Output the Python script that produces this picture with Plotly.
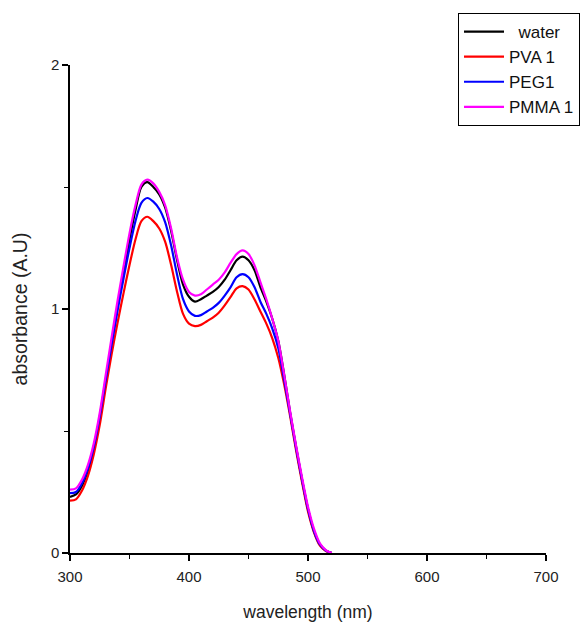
import plotly.graph_objects as go

wavelength = [300, 305, 310, 315, 320, 325, 330, 335, 340, 345, 350, 355, 360, 365, 370,
              375, 380, 385, 390, 395, 400, 405, 410, 415, 420, 425, 430, 435, 440, 445,
              450, 455, 460, 465, 470, 475, 480, 485, 490, 495, 500, 505, 510, 515, 520]

water = [0.23, 0.24, 0.275, 0.335, 0.425, 0.55, 0.705, 0.86, 1.01, 1.15, 1.285, 1.405, 1.50, 1.52, 1.50,
         1.47, 1.415, 1.32, 1.20, 1.10, 1.05, 1.03, 1.04, 1.055, 1.07, 1.09, 1.12, 1.16, 1.20, 1.215,
         1.20, 1.16, 1.09, 1.03, 0.96, 0.87, 0.73, 0.575, 0.435, 0.30, 0.18, 0.09, 0.035, 0.01, 0.0]

pva1 = [0.215, 0.22, 0.255, 0.315, 0.405, 0.525, 0.675, 0.815, 0.945, 1.065, 1.18, 1.285, 1.36, 1.378, 1.36,
        1.33, 1.275, 1.18, 1.07, 0.98, 0.94, 0.93, 0.935, 0.95, 0.965, 0.985, 1.015, 1.05, 1.085, 1.094,
        1.08, 1.04, 0.99, 0.94, 0.88, 0.80, 0.69, 0.56, 0.42, 0.29, 0.17, 0.085, 0.03, 0.008, 0.0]

peg1 = [0.245, 0.25, 0.285, 0.345, 0.435, 0.56, 0.71, 0.855, 0.995, 1.125, 1.25, 1.36, 1.435, 1.455, 1.44,
        1.41, 1.355, 1.26, 1.14, 1.04, 0.99, 0.972, 0.975, 0.99, 1.005, 1.025, 1.055, 1.09, 1.13, 1.143,
        1.13, 1.09, 1.03, 0.98, 0.92, 0.84, 0.71, 0.57, 0.43, 0.30, 0.18, 0.09, 0.035, 0.01, 0.0]

pmma1 = [0.26, 0.265, 0.30, 0.36, 0.45, 0.575, 0.73, 0.885, 1.035, 1.175, 1.31, 1.425, 1.51, 1.53, 1.515,
         1.48, 1.425, 1.33, 1.21, 1.12, 1.07, 1.055, 1.06, 1.08, 1.10, 1.12, 1.15, 1.19, 1.225, 1.24,
         1.225, 1.18, 1.11, 1.04, 0.96, 0.87, 0.73, 0.58, 0.44, 0.31, 0.19, 0.10, 0.04, 0.012, 0.0]

series = [
    ("\u00a0\u00a0water", water, "#000000"),
    ("PVA 1", pva1, "#ff0000"),
    ("PEG1", peg1, "#0000ff"),
    ("PMMA 1", pmma1, "#ff00ff"),
]

fig = go.Figure()
for i, (name, vals, color) in enumerate(series):
    fig.add_trace(go.Scatter(
        x=wavelength, y=vals, mode="lines", name=name,
        line=dict(color=color, width=2.2, shape="spline", smoothing=0.8),
    ))

tick_font = dict(family="Arial", size=15, color="#222222")
fig.update_layout(
    width=582, height=625,
    margin=dict(l=70, r=36, t=65, b=72, autoexpand=False),
    paper_bgcolor="white", plot_bgcolor="white",
    font=dict(family="Arial", size=15, color="#222222"),
    showlegend=True,
    legend=dict(
        xref="container", yref="container",
        x=458 / 582, y=1 - 13 / 625, xanchor="left", yanchor="top",
        bordercolor="#000000", borderwidth=1, bgcolor="white",
        font=dict(family="Arial", size=17, color="#111111"),
        itemwidth=40,
    ),
    xaxis=dict(
        range=[300, 700], tickvals=[300, 400, 500, 600, 700],
        showgrid=False, zeroline=False, automargin=False,
        showline=True, linecolor="#000000", linewidth=1.5,
        ticks="outside", ticklen=6, tickwidth=1.5, tickcolor="#000000",
        minor=dict(ticks="outside", dtick=50, ticklen=4, tickwidth=1.2, tickcolor="#000000", showgrid=False),
        tickfont=tick_font, ticklabelstandoff=3,
        title=dict(text="wavelength (nm)", font=dict(family="Arial", size=17.5, color="#222222"), standoff=22),
    ),
    yaxis=dict(
        range=[0, 2], tickvals=[0, 1, 2],
        showgrid=False, zeroline=False, automargin=False,
        showline=True, linecolor="#000000", linewidth=1.5,
        ticks="outside", ticklen=6, tickwidth=1.5, tickcolor="#000000",
        minor=dict(ticks="outside", dtick=0.5, ticklen=4, tickwidth=1.2, tickcolor="#000000", showgrid=False),
        tickfont=tick_font,
        title=dict(text="absorbance (A.U)", font=dict(family="Arial", size=19.5, color="#222222"), standoff=18),
    ),
)

fig.write_html("out.html")
